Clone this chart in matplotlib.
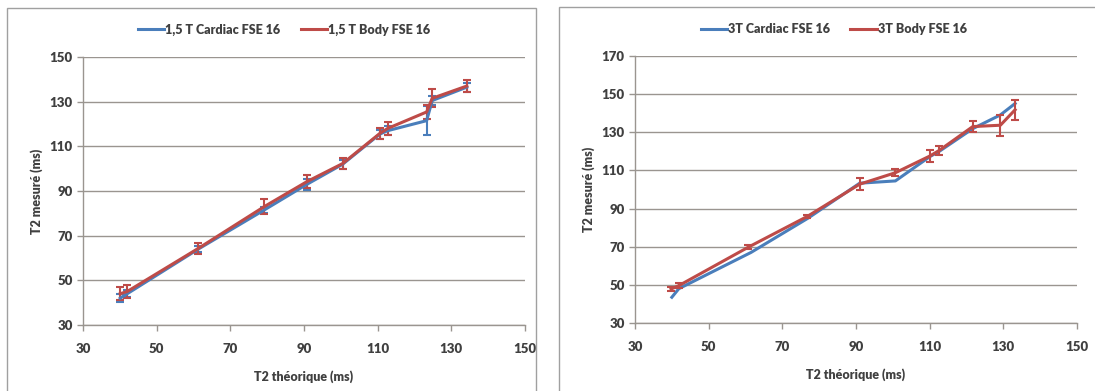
import matplotlib.pyplot as plt
from matplotlib.patches import Rectangle
from matplotlib.lines import Line2D

# 1,5 T panel
x15_cardiac = [40.1, 42.0, 61.3, 79.2, 90.8, 100.5, 110.6, 112.7, 123.3, 124.8, 134.2]
y15_cardiac = [42.0, 44.0, 64.0, 81.5, 93.0, 102.0, 115.5, 117.0, 121.5, 130.5, 136.5]
e15_cardiac = [1.8, 1.5, 1.5, 1.5, 2.5, 2.0, 2.0, 2.0, 6.5, 2.0, 2.0]
x15_body = [40.1, 42.0, 61.3, 79.2, 90.8, 100.5, 110.6, 112.7, 123.3, 124.8, 134.2]
y15_body = [44.0, 45.0, 64.3, 83.0, 94.2, 102.3, 115.8, 118.0, 125.4, 131.5, 137.0]
e15_body = [3.0, 3.0, 2.5, 3.5, 3.0, 2.5, 2.5, 3.0, 3.0, 4.0, 2.5]

# 3T panel
x3_cardiac = [40.0, 41.9, 61.5, 77.0, 91.0, 100.7, 110.1, 112.6, 121.7, 129.2, 133.2]
y3_cardiac = [43.5, 48.0, 67.0, 85.0, 103.3, 104.5, 117.3, 120.0, 131.9, 139.1, 145.1]
x3_body = [39.8, 41.9, 60.8, 76.8, 91.0, 100.7, 110.1, 112.6, 121.7, 129.2, 133.2]
y3_body = [47.8, 49.6, 69.8, 85.9, 102.8, 108.8, 117.6, 120.5, 133.0, 133.7, 141.8]
e3_body = [1.2, 1.2, 1.0, 0.8, 3.0, 1.8, 3.0, 2.5, 3.0, 5.5, 5.2]

xticks = [30, 50, 70, 90, 110, 130, 150]
yticks15 = [30, 50, 70, 90, 110, 130, 150]
yticks3 = [30, 50, 70, 90, 110, 130, 150, 170]

blue = '#4a7ebb'
red = '#be4b48'
grid_col = '#9a9590'
text_col = '#404040'

plt.rcParams['font.family'] = ['Lato', 'DejaVu Sans']

W, H = 1095, 391
fig = plt.figure(figsize=(W / 100, H / 100), dpi=100)
fig.patch.set_facecolor('white')

# panel frames
fig.add_artist(Rectangle((7 / W, -0.01), (536 - 7) / W, 1 - 8 / H + 0.01,
                         transform=fig.transFigure, fill=False, edgecolor='#a0a0a0', lw=1))
fig.add_artist(Rectangle((559 / W, -0.01), (1100 - 559) / W, 1 - 7 / H + 0.01,
                         transform=fig.transFigure, fill=False, edgecolor='#a0a0a0', lw=1))


def style_axes(ax, yticks, ylim):
    ax.set_xlim(30, 150)
    ax.set_ylim(*ylim)
    ax.set_xticks(xticks)
    ax.set_yticks(yticks)
    for s in ['top', 'right']:
        ax.spines[s].set_visible(False)
    for s in ['left', 'bottom']:
        ax.spines[s].set_color(grid_col)
        ax.spines[s].set_linewidth(1)
    ax.yaxis.grid(True, color=grid_col, lw=1)
    ax.set_axisbelow(True)
    ax.tick_params(axis='both', colors=grid_col, labelcolor=text_col,
                   labelsize=9.5, length=4, width=1, direction='out')
    ax.tick_params(axis='x', pad=9)
    for lab in ax.get_xticklabels() + ax.get_yticklabels():
        lab.set_fontweight('heavy')
    ax.set_xlabel('T2 théorique (ms)', fontsize=9, fontweight='heavy', color=text_col, labelpad=11)
    ax.set_ylabel('T2 mesuré (ms)', fontsize=9, fontweight='heavy', color=text_col, labelpad=5)


def draw(ax, x, y, err, color):
    ax.errorbar(x, y, yerr=err, color=color, lw=2.2, elinewidth=1.5,
                capsize=3, capthick=1.5)


def add_legend(ax, labels, xanchor):
    handles = [Line2D([], [], color=blue, lw=2.2), Line2D([], [], color=red, lw=2.2)]
    leg = ax.legend(handles, labels, loc='lower center', bbox_to_anchor=(xanchor, 1.06),
                    ncol=2, frameon=False, fontsize=9, handlelength=2.1,
                    handletextpad=0.1, columnspacing=1.6, borderaxespad=0)
    for t in leg.get_texts():
        t.set_color(text_col)
        t.set_fontweight('heavy')


# left chart
ax1 = fig.add_axes([83 / W, 1 - 325 / H, (525 - 83) / W, (325 - 57) / H])
draw(ax1, x15_cardiac, y15_cardiac, e15_cardiac, blue)
draw(ax1, x15_body, y15_body, e15_body, red)
style_axes(ax1, yticks15, (30, 150))
add_legend(ax1, ['1,5 T Cardiac FSE 16', '1,5 T Body FSE 16'], 0.455)

# right chart
ax2 = fig.add_axes([635 / W, 1 - 323 / H, (1077 - 635) / W, (323 - 56) / H])
ax2.plot(x3_cardiac, y3_cardiac, color=blue, lw=2.2)
draw(ax2, x3_body, y3_body, e3_body, red)
style_axes(ax2, yticks3, (30, 170))
add_legend(ax2, ['3T Cardiac FSE 16', '3T Body FSE 16'], 0.45)

fig.savefig('out.png', dpi=100, facecolor='white')
